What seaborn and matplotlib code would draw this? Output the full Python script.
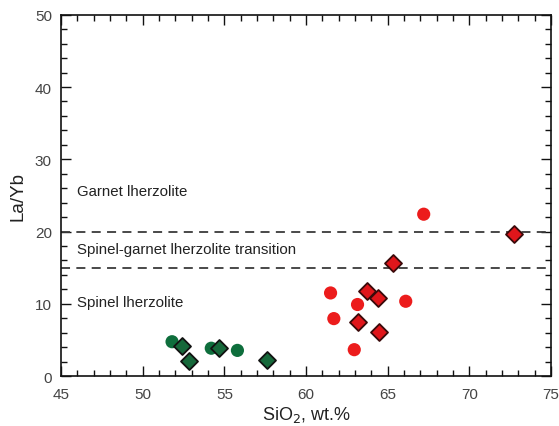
import matplotlib
matplotlib.use("Agg")
import matplotlib.pyplot as plt
import seaborn as sns
import pandas as pd
from matplotlib.ticker import MultipleLocator

sns.set_style("ticks")
plt.rcParams['font.family'] = ['Liberation Sans', 'DejaVu Sans']

# Green group
green_circle_x = [51.8, 54.2, 55.8]
green_circle_y = [4.75, 3.85, 3.55]
green_diamond_x = [52.4, 52.85, 54.7, 57.6]
green_diamond_y = [4.2, 2.15, 3.85, 2.25]
# Red group
red_circle_x = [67.2, 61.5, 66.1, 63.15, 61.7, 62.95]
red_circle_y = [22.4, 11.5, 10.35, 9.9, 7.95, 3.65]
red_diamond_x = [72.7, 65.3, 63.7, 64.4, 63.2, 64.45]
red_diamond_y = [19.7, 15.7, 11.75, 10.75, 7.5, 6.1]

boundaries = [20, 15]
labels = ["Garnet lherzolite", "Spinel-garnet lherzolite transition", "Spinel lherzolite"]
label_y = [25.6, 17.6, 10.3]

fig = plt.figure(figsize=(5.59, 4.27), dpi=100)
ax = fig.add_axes([0.109, 0.117, 0.877, 0.846])

for xs, ys, mk, fc, ec, sz in [
    (green_circle_x, green_circle_y, 'o', '#0e6e3c', 'none', 90),
    (green_diamond_x, green_diamond_y, 'D', '#16683a', '#111111', 75),
    (red_circle_x, red_circle_y, 'o', '#ec1c1c', 'none', 90),
    (red_diamond_x, red_diamond_y, 'D', '#e0161b', '#3a0a0a', 75),
]:
    df = pd.DataFrame({'x': xs, 'y': ys})
    sns.scatterplot(data=df, x='x', y='y', marker=mk, color=fc, edgecolor=ec,
                    linewidth=1.3 if ec != 'none' else 0, s=sz, ax=ax, zorder=3)

for b in boundaries:
    ax.axhline(b, color='#3a3a3a', linestyle=(0, (5, 3.5)), linewidth=1.3, zorder=2)

for t, yy in zip(labels, label_y):
    ax.text(46.0, yy, t, fontsize=10.8, color='#222222', va='center', ha='left')

ax.set_xlim(45, 75)
ax.set_ylim(0, 50)
ax.xaxis.set_major_locator(MultipleLocator(5))
ax.xaxis.set_minor_locator(MultipleLocator(1))
ax.yaxis.set_major_locator(MultipleLocator(10))
ax.yaxis.set_minor_locator(MultipleLocator(2))
ax.tick_params(which='both', direction='in', top=True, right=True, colors='#111111',
               labelcolor='#444444', labelsize=11)
ax.tick_params(which='major', length=7, width=1)
ax.tick_params(which='minor', length=4, width=1)
ax.tick_params(axis='x', which='major', pad=8)
ax.tick_params(axis='y', which='major', pad=6.5)
for s in ax.spines.values():
    s.set_color('#111111')
    s.set_linewidth(1.2)
ax.set_xlabel('SiO$_2$, wt.%', fontsize=13, color='#222222', labelpad=2)
ax.set_ylabel('La/Yb', fontsize=13.5, color='#222222', labelpad=6)

fig.savefig('out.png', dpi=100)
